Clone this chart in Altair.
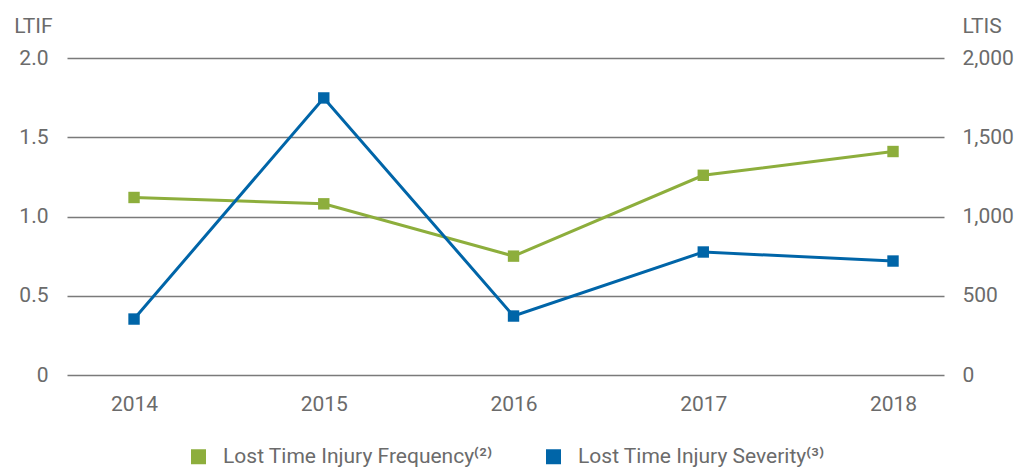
import altair as alt
import pandas as pd

years = ["2014", "2015", "2016", "2017", "2018"]
ltif = [1.12, 1.08, 0.75, 1.26, 1.41]
ltis = [353, 1748, 372, 776, 719]
series_names = ["Lost Time Injury Frequency⁽²⁾", "Lost Time Injury Severity⁽³⁾"]
colors = ["#8DAE3C", "#0065A8"]

df = pd.DataFrame({
    "year": years * 2,
    "series": [series_names[0]] * 5 + [series_names[1]] * 5,
    "ltif": ltif + [None] * 5,
    "ltis": [None] * 5 + ltis,
})

FONT = "Roboto"
TXT = "#6b6b6b"
LS = 21

x_enc = alt.X("year:O", scale=alt.Scale(type="point", padding=0.311, align=0.568),
              axis=alt.Axis(title=None, labelAngle=0, labelFontSize=LS, labelColor=TXT,
                            labelFont=FONT, labelPadding=18, ticks=False, domain=False, grid=False))
color_enc = alt.Color("series:N", scale=alt.Scale(domain=series_names, range=colors),
                      legend=alt.Legend(title=None, orient="none", legendX=121, legendY=388,
                                        direction="horizontal", symbolType="square",
                                        symbolSize=225, symbolStrokeWidth=0, labelFontSize=21,
                                        labelColor=TXT, labelFont=FONT, columnPadding=50,
                                        labelOffset=14, symbolOpacity=1, labelLimit=500))

base = alt.Chart(df)

left = base.transform_filter(alt.datum.series == series_names[0]).encode(
    x=x_enc,
    y=alt.Y("ltif:Q", scale=alt.Scale(domain=[0, 2]),
            axis=alt.Axis(title="LTIF", titleAngle=0, titleX=-15, titleY=-22, titleAlign="right",
                          titleFontSize=LS, titleFontWeight="normal", titleColor=TXT, titleFont=FONT,
                          values=[0, 0.5, 1, 1.5, 2],
                          labelExpr="datum.value == 0 ? '0' : format(datum.value, '.1f')",
                          labelFontSize=LS, labelColor=TXT, labelFont=FONT, labelPadding=19,
                          ticks=False, domain=False, grid=True, gridColor="#7a7a7a",
                          gridWidth=1.5, gridOpacity=1)),
    color=color_enc,
)
left_layer = alt.layer(left.mark_line(strokeWidth=3), left.mark_square(size=130, opacity=1))

right = base.transform_filter(alt.datum.series == series_names[1]).encode(
    x=x_enc,
    y=alt.Y("ltis:Q", scale=alt.Scale(domain=[0, 2000]),
            axis=alt.Axis(title="LTIS", titleAngle=0, titleX=18, titleY=-22, titleAlign="left",
                          titleFontSize=LS, titleFontWeight="normal", titleColor=TXT, titleFont=FONT,
                          values=[0, 500, 1000, 1500, 2000],
                          labelExpr="format(datum.value, ',d')",
                          labelFontSize=LS, labelColor=TXT, labelFont=FONT, labelPadding=18,
                          ticks=False, domain=False, grid=False, orient="right")),
    color=color_enc,
)
right_layer = alt.layer(right.mark_line(strokeWidth=3), right.mark_square(size=130, opacity=1))

chart = alt.layer(left_layer, right_layer).resolve_scale(y="independent").properties(
    width=877, height=317,
    autosize=alt.AutoSizeParams(type="none"),
    padding={"left": 59, "top": 50, "right": 71, "bottom": 94},
).configure_view(stroke=None)

chart.save("out.html", embed_options={"renderer": "svg", "actions": False})
